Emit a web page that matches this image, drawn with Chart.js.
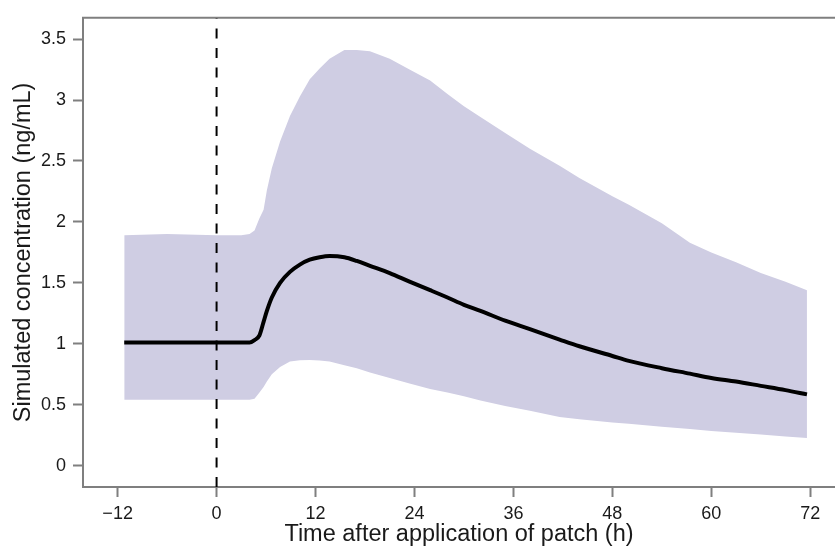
<!DOCTYPE html>
<html>
<head>
<meta charset="utf-8">
<script src="https://cdn.jsdelivr.net/npm/chart.js@4"></script>
<style>
  html, body { margin: 0; padding: 0; background: #fff; }
  #wrap { width: 835px; height: 549px; }
</style>
</head>
<body>
<div id="wrap"><canvas id="conc-chart" width="835" height="549"></canvas></div>
<script>
// time after application (h)
var hours = [-11.2, -6, 0, 3, 4, 4.6, 5.2, 5.7, 6.1, 6.7, 7.7, 8.9, 10.1, 11.3, 12.5, 13.7, 15.5, 17, 18.6, 21,
    23.4, 25.9, 28, 30, 32, 35, 38, 41.6, 44, 48, 50, 54, 57.4, 60, 63, 66, 69, 71.6];
// median simulated concentration (ng/mL)
var median = [1.01, 1.01, 1.01, 1.01, 1.01, 1.03, 1.07, 1.18, 1.27, 1.38, 1.50, 1.59, 1.65, 1.69, 1.71, 1.72, 1.71, 1.68, 1.64, 1.58,
    1.51, 1.44, 1.38, 1.32, 1.27, 1.19, 1.12, 1.035, 0.98, 0.90, 0.86, 0.80, 0.755, 0.72, 0.69, 0.655, 0.62, 0.585];
// upper and lower bounds of the band
var upper = [1.89, 1.90, 1.89, 1.89, 1.90, 1.93, 2.03, 2.10, 2.26, 2.44, 2.66, 2.87, 3.03, 3.17, 3.26, 3.34, 3.41, 3.41, 3.40, 3.34,
    3.25, 3.16, 3.05, 2.95, 2.86, 2.73, 2.60, 2.46, 2.36, 2.21, 2.14, 1.99, 1.83, 1.75, 1.67, 1.58, 1.51, 1.44];
var lower = [0.54, 0.54, 0.54, 0.54, 0.54, 0.55, 0.60, 0.645, 0.69, 0.75, 0.81, 0.855, 0.866, 0.867, 0.862, 0.855, 0.825, 0.80, 0.765, 0.72,
    0.675, 0.63, 0.60, 0.57, 0.535, 0.49, 0.45, 0.40, 0.38, 0.355, 0.343, 0.32, 0.30, 0.285, 0.27, 0.255, 0.24, 0.227];

var xTicks = [-12, 0, 12, 24, 36, 48, 60, 72];
var yTicks = [0, 0.5, 1, 1.5, 2, 2.5, 3, 3.5];
var xMin = -16.2, xMax = 75;
var yMin = -0.175, yMax = 3.675;

function pts(ys) {
    return hours.map(function (h, i) { return { x: h, y: ys[i] }; });
}

var axisGray = '#7f7f7f';
var font = 'Liberation Sans, Arial, Helvetica, sans-serif';

// top frame line
var topLine = {
    id: 'topLine',
    afterDraw: function (chart) {
        var a = chart.chartArea, ctx = chart.ctx;
        ctx.save();
        ctx.strokeStyle = axisGray;
        ctx.lineWidth = 2;
        ctx.beginPath();
        ctx.moveTo(a.left - 1, a.top);
        ctx.lineTo(a.right, a.top);
        ctx.stroke();
        ctx.restore();
    }
};

var chartConfig = {
    type: 'line',
    data: {
        datasets: [{
            label: 'lower',
            data: pts(lower),
            borderWidth: 0,
            pointRadius: 0,
            order: 3,
            fill: false
        }, {
            label: 'upper',
            data: pts(upper),
            borderWidth: 0,
            pointRadius: 0,
            backgroundColor: '#cfcde3',
            order: 2,
            fill: '-1'
        }, {
            label: 'median',
            data: pts(median),
            borderColor: '#000',
            borderWidth: 4,
            pointRadius: 0,
            cubicInterpolationMode: 'monotone',
            order: 1,
            fill: false
        }, {
            label: 'patch',
            data: [{ x: 0, y: yMin }, { x: 0, y: yMax }],
            borderColor: '#000',
            borderWidth: 2,
            borderDash: [10, 9.5],
            pointRadius: 0,
            order: 0,
            fill: false
        }]
    },
    options: {
        responsive: false,
        animation: false,
        layout: { padding: { top: 11, left: 0, right: 0, bottom: 0 } },
        plugins: {
            legend: { display: false },
            tooltip: { enabled: false }
        },
        scales: {
            x: {
                type: 'linear',
                min: xMin,
                max: xMax,
                afterBuildTicks: function (s) { s.ticks = xTicks.map(function (v) { return { value: v }; }); },
                afterFit: function (s) { s.height = 62; },
                grid: { drawOnChartArea: false, tickLength: 10, tickWidth: 2, tickColor: axisGray },
                border: { color: axisGray, width: 2 },
                ticks: {
                    color: '#1a1a1a',
                    font: { family: font, size: 18 },
                    padding: 6,
                    maxRotation: 0,
                    callback: function (v) { return v < 0 ? '\u2212' + Math.abs(v) : String(v); }
                },
                title: {
                    display: true,
                    text: 'Time after application of patch (h)',
                    color: '#1a1a1a',
                    font: { family: font, size: 23.5 },
                    padding: { top: 0, bottom: 0 }
                }
            },
            y: {
                type: 'linear',
                min: yMin,
                max: yMax,
                afterBuildTicks: function (s) { s.ticks = yTicks.map(function (v) { return { value: v }; }); },
                afterFit: function (s) { s.width = 83; },
                grid: { drawOnChartArea: false, tickLength: 10, tickWidth: 2, tickColor: axisGray },
                border: { color: axisGray, width: 2 },
                ticks: {
                    color: '#1a1a1a',
                    font: { family: font, size: 18 },
                    padding: 7,
                    callback: function (v) { return String(v); }
                },
                title: {
                    display: true,
                    text: 'Simulated concentration (ng/mL)',
                    color: '#1a1a1a',
                    font: { family: font, size: 23.5 },
                    padding: { top: 9, bottom: 9 }
                }
            }
        }
    },
    plugins: [topLine]
};

var concChart = new Chart(document.getElementById('conc-chart'), chartConfig);
</script>
</body>
</html>
